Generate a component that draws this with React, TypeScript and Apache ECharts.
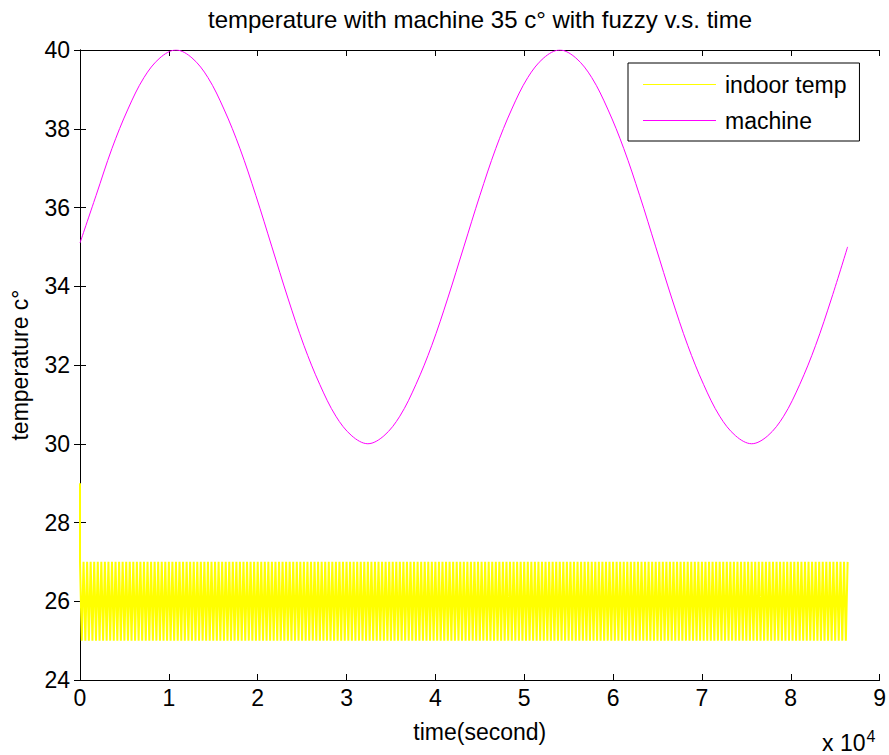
import React, { useEffect, useRef } from "react";
import * as echarts from "echarts";

const titleText = "temperature with machine 35 c° with fuzzy v.s. time";
const xName = "time(second)";
const yName = "temperature c°";
const seriesNames = ["indoor temp", "machine"];

// machine temperature, sampled every 1800 s (0 .. 86400 s)
const machineStep = 1800;
const machineTemp = [
  35.1, 36.3, 37.5, 38.5, 39.3, 39.8, 40, 39.8, 39.3, 38.5, 37.5, 36.3,
  35, 33.7, 32.5, 31.5, 30.7, 30.2, 30, 30.2, 30.7, 31.5, 32.5, 33.7,
  35, 36.3, 37.5, 38.5, 39.3, 39.8, 40, 39.8, 39.3, 38.5, 37.5, 36.3,
  35, 33.7, 32.5, 31.5, 30.7, 30.2, 30, 30.2, 30.7, 31.5, 32.5, 33.7,
  35,
];

// indoor temperature: starts at 29, then switches 27 <-> 25 every 200 s
const indoorStep = 200;
const indoorTemp = [
  29,
  27, 25, 27, 25, 27, 25, 27, 25, 27, 25, 27, 25, 27, 25, 27, 25, 27, 25, 27, 25,
  27, 25, 27, 25, 27, 25, 27, 25, 27, 25, 27, 25, 27, 25, 27, 25, 27, 25, 27, 25,
  27, 25, 27, 25, 27, 25, 27, 25, 27, 25, 27, 25, 27, 25, 27, 25, 27, 25, 27, 25,
  27, 25, 27, 25, 27, 25, 27, 25, 27, 25, 27, 25, 27, 25, 27, 25, 27, 25, 27, 25,
  27, 25, 27, 25, 27, 25, 27, 25, 27, 25, 27, 25, 27, 25, 27, 25, 27, 25, 27, 25,
  27, 25, 27, 25, 27, 25, 27, 25, 27, 25, 27, 25, 27, 25, 27, 25, 27, 25, 27, 25,
  27, 25, 27, 25, 27, 25, 27, 25, 27, 25, 27, 25, 27, 25, 27, 25, 27, 25, 27, 25,
  27, 25, 27, 25, 27, 25, 27, 25, 27, 25, 27, 25, 27, 25, 27, 25, 27, 25, 27, 25,
  27, 25, 27, 25, 27, 25, 27, 25, 27, 25, 27, 25, 27, 25, 27, 25, 27, 25, 27, 25,
  27, 25, 27, 25, 27, 25, 27, 25, 27, 25, 27, 25, 27, 25, 27, 25, 27, 25, 27, 25,
  27, 25, 27, 25, 27, 25, 27, 25, 27, 25, 27, 25, 27, 25, 27, 25, 27, 25, 27, 25,
  27, 25, 27, 25, 27, 25, 27, 25, 27, 25, 27, 25, 27, 25, 27, 25, 27, 25, 27, 25,
  27, 25, 27, 25, 27, 25, 27, 25, 27, 25, 27, 25, 27, 25, 27, 25, 27, 25, 27, 25,
  27, 25, 27, 25, 27, 25, 27, 25, 27, 25, 27, 25, 27, 25, 27, 25, 27, 25, 27, 25,
  27, 25, 27, 25, 27, 25, 27, 25, 27, 25, 27, 25, 27, 25, 27, 25, 27, 25, 27, 25,
  27, 25, 27, 25, 27, 25, 27, 25, 27, 25, 27, 25, 27, 25, 27, 25, 27, 25, 27, 25,
  27, 25, 27, 25, 27, 25, 27, 25, 27, 25, 27, 25, 27, 25, 27, 25, 27, 25, 27, 25,
  27, 25, 27, 25, 27, 25, 27, 25, 27, 25, 27, 25, 27, 25, 27, 25, 27, 25, 27, 25,
  27, 25, 27, 25, 27, 25, 27, 25, 27, 25, 27, 25, 27, 25, 27, 25, 27, 25, 27, 25,
  27, 25, 27, 25, 27, 25, 27, 25, 27, 25, 27, 25, 27, 25, 27, 25, 27, 25, 27, 25,
  27, 25, 27, 25, 27, 25, 27, 25, 27, 25, 27, 25, 27, 25, 27, 25, 27, 25, 27, 25,
  27, 25, 27, 25, 27, 25, 27, 25, 27, 25, 27, 25,
  27,
];

const xMin = 0;
const xMax = 90000;
const xInterval = 10000;
const yMin = 24;
const yMax = 40;
const yInterval = 2;

const FONT = "Liberation Sans, Arial, Helvetica, sans-serif";

export default function App() {
  const ref = useRef<HTMLDivElement>(null);

  useEffect(() => {
    document.body.style.margin = "0";
    const chart = echarts.init(ref.current!, null, { renderer: "svg" });

    const machineData = machineTemp.map((v, i) => [i * machineStep, v]);
    const indoorData = indoorTemp.map((v, i) => [i === 0 ? 0 : (i - 1) * indoorStep, v]);

    const tickStyle = { show: true, inside: true, length: 6, lineStyle: { color: "#000", width: 1 } };
    const lineStyle = { show: true, lineStyle: { color: "#000", width: 1 } };
    const labelStyle = { color: "#000", fontSize: 23, fontFamily: FONT };

    chart.setOption({
      animation: false,
      backgroundColor: "#fff",
      textStyle: { fontFamily: FONT },
      grid: { left: 80, right: 9, top: 50, bottom: 75, containLabel: false },
      legend: {
        data: seriesNames,
        orient: "vertical",
        left: 628,
        top: 63,
        padding: [10, 13, 9, 15],
        itemGap: 13,
        itemWidth: 73,
        itemHeight: 1,
        icon: "rect",
        backgroundColor: "#fff",
        borderColor: "#000",
        borderWidth: 1,
        borderRadius: 0,
        textStyle: { color: "#000", fontSize: 23, fontFamily: FONT, padding: [0, 0, 0, 4] },
      },
      xAxis: [
        {
          type: "value",
          min: xMin,
          max: xMax,
          interval: xInterval,
          position: "bottom",
          name: xName,
          nameLocation: "middle",
          nameGap: 40,
          nameTextStyle: { color: "#000", fontSize: 23, fontFamily: FONT },
          axisLine: lineStyle,
          axisTick: tickStyle,
          axisLabel: { ...labelStyle, margin: 6, formatter: (v: number) => String(v / 10000) },
          splitLine: { show: false },
        },
        {
          type: "value",
          min: xMin,
          max: xMax,
          interval: xInterval,
          position: "top",
          axisLine: lineStyle,
          axisTick: tickStyle,
          axisLabel: { show: false },
          splitLine: { show: false },
        },
      ],
      yAxis: [
        {
          type: "value",
          min: yMin,
          max: yMax,
          interval: yInterval,
          position: "left",
          name: yName,
          nameLocation: "middle",
          nameGap: 49,
          nameRotate: 90,
          nameTextStyle: { color: "#000", fontSize: 23, fontFamily: FONT },
          axisLine: lineStyle,
          axisTick: tickStyle,
          axisLabel: { ...labelStyle, margin: 10 },
          splitLine: { show: false },
        },
        {
          type: "value",
          min: yMin,
          max: yMax,
          interval: yInterval,
          position: "right",
          axisLine: lineStyle,
          axisTick: tickStyle,
          axisLabel: { show: false },
          splitLine: { show: false },
        },
      ],
      series: [
        {
          name: seriesNames[0],
          type: "line",
          data: indoorData,
          symbol: "none",
          color: "#ffff00",
          lineStyle: { color: "#ffff00", width: 2 },
          z: 2,
        },
        {
          name: seriesNames[1],
          type: "line",
          data: machineData,
          symbol: "none",
          smooth: 0.35,
          color: "#ff00ff",
          lineStyle: { color: "#ff00ff", width: 1 },
          z: 3,
        },
      ],
      graphic: [
        {
          type: "text",
          x: 480,
          y: 19,
          style: {
            text: titleText,
            fill: "#000",
            fontSize: 24,
            fontFamily: FONT,
            align: "center",
            verticalAlign: "middle",
          },
        },
        {
          type: "text",
          left: 822,
          top: 728,
          style: {
            text: "x 10{sup|4}",
            fill: "#000",
            fontSize: 23,
            fontFamily: FONT,
            rich: {
              sup: { fontSize: 16, fontFamily: FONT, fill: "#000", verticalAlign: "top", padding: [0, 0, 14, 1] },
            },
          },
        },
      ],
    });

    return () => chart.dispose();
  }, []);

  return (
    <div
      ref={ref}
      style={{ position: "absolute", left: 0, top: 0, width: 889, height: 755 }}
    />
  );
}
